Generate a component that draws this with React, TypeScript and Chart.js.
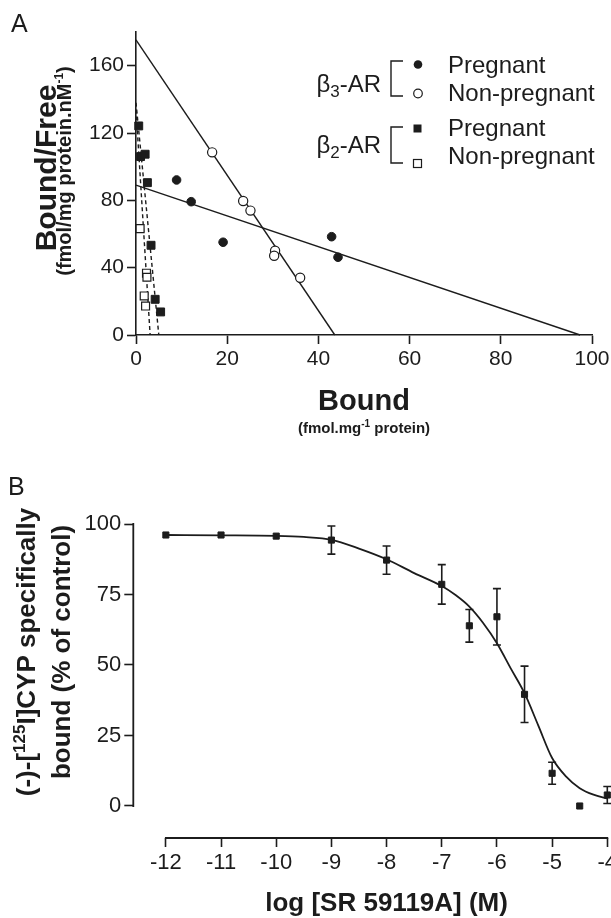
import React, { useEffect, useRef } from 'react';
import { Chart, registerables } from 'chart.js';

Chart.register(...registerables);

const FONT = '"Liberation Sans", Arial, Helvetica, sans-serif';
const INK = '#1c1c1c';

// ---------------- Panel A (Scatchard plot) ----------------
const aXTicks = [0, 20, 40, 60, 80, 100];
const aYTicks = [0, 40, 80, 120, 160];

const b3PregnantX = [8.9, 12.1, 19.1, 42.9, 44.3];
const b3PregnantY = [92.1, 79.2, 55.1, 58.4, 46.2];
const b3NonPregnantX = [16.7, 23.5, 25.1, 30.5, 30.3, 36.0];
const b3NonPregnantY = [108.5, 79.6, 73.9, 50.1, 47.1, 34.0];
const b2PregnantX = [0.6, 1.0, 2.0, 2.5, 3.3, 4.2, 5.4];
const b2PregnantY = [124.2, 106.0, 107.4, 90.5, 53.3, 21.2, 13.7];
const b2NonPregnantX = [0.9, 2.3, 2.4, 1.8, 2.1];
const b2NonPregnantY = [63.2, 36.7, 34.3, 23.2, 17.2];

const fitB3PregnantX = [0, 97.4];
const fitB3PregnantY = [89, 0];
const fitB3NonPregnantX = [0, 43.6];
const fitB3NonPregnantY = [175.3, 0];
const fitB2PregnantX = [0, 5.0];
const fitB2PregnantY = [138, 0];
const fitB2NonPregnantX = [0, 3.1];
const fitB2NonPregnantY = [134, 0];

// ---------------- Panel B (competition curve) ----------------
const bXTicks = [-12, -11, -10, -9, -8, -7, -6, -5, -4];
const bYTicks = [0, 25, 50, 75, 100];

const logConc = [-12, -11, -10, -9, -8, -7, -6.5, -6, -5.5, -5, -4.5, -4];
const boundPct = [96.1, 96.1, 95.7, 94.3, 87.2, 78.6, 63.9, 67.1, 39.6, 11.6, 0, 3.9];
const boundSem = [0, 0, 0, 5.0, 5.0, 7.0, 5.8, 10.0, 10.0, 3.9, 0, 3.0];

const fitLogConc = [-12, -11, -10, -9.5, -9, -8.5, -8, -7.5, -7, -6.75, -6.5, -6.25, -6, -5.75, -5.5, -5.25, -5, -4.75, -4.5, -4.25, -4];
const fitBound = [96.1, 96.0, 95.8, 95.4, 94.4, 91.3, 87.5, 82.6, 78.0, 74.8, 70.7, 64.9, 57.7, 48.8, 40.0, 28.5, 17.0, 10.5, 6.3, 4.0, 2.7];

const zip = (xs: number[], ys: number[]) => xs.map((x, i) => ({ x, y: ys[i] }));

type Seg = { t: string; f: string; dy?: number };

function rich(ctx: CanvasRenderingContext2D, segs: Seg[], x: number, y: number, align: 'left' | 'center' | 'right', rotate = false) {
  ctx.save();
  ctx.translate(x, y);
  if (rotate) ctx.rotate(-Math.PI / 2);
  ctx.textAlign = 'left';
  ctx.textBaseline = 'alphabetic';
  const ws = segs.map((s) => {
    ctx.font = s.f;
    return ctx.measureText(s.t).width;
  });
  const total = ws.reduce((a, b) => a + b, 0);
  let cx = align === 'center' ? -total / 2 : align === 'right' ? -total : 0;
  segs.forEach((s, i) => {
    ctx.font = s.f;
    ctx.fillText(s.t, cx, s.dy || 0);
    cx += ws[i];
  });
  ctx.restore();
}

const axisCommon = (size: number) => ({
  grid: { display: true, drawOnChartArea: false, drawTicks: true, tickLength: 9, tickWidth: 1.6, tickColor: INK, color: INK },
  ticks: {
    color: INK,
    font: { family: FONT, size },
    padding: 3,
    autoSkip: false,
    maxRotation: 0,
    callback: (v: any) => String(v),
  },
});

const annotateA = {
  id: 'annotateA',
  afterDraw(chart: any) {
    const ctx: CanvasRenderingContext2D = chart.ctx;
    const xs = chart.scales.x;
    ctx.save();
    ctx.fillStyle = INK;
    ctx.strokeStyle = INK;
    ctx.font = `25px ${FONT}`;
    ctx.textAlign = 'left';
    ctx.textBaseline = 'alphabetic';
    ctx.fillText('A', 11, 32);

    const cx = (xs.left + xs.right) / 2;
    rich(ctx, [{ t: 'Bound', f: `bold 29px ${FONT}` }], cx, 410, 'center');
    rich(ctx, [
      { t: '(fmol.mg', f: `bold 15px ${FONT}` },
      { t: '-1', f: `bold 10px ${FONT}`, dy: -6 },
      { t: ' protein)', f: `bold 15px ${FONT}` },
    ], cx, 433, 'center');

    rich(ctx, [{ t: 'Bound/Free', f: `bold 30px ${FONT}` }], 56, 168, 'center', true);
    rich(ctx, [
      { t: '(fmol/mg protein.nM', f: `bold 20px ${FONT}` },
      { t: '-1', f: `bold 12px ${FONT}`, dy: -8 },
      { t: ')', f: `bold 20px ${FONT}` },
    ], 71, 171, 'center', true);

    // legend
    const lf = `24px ${FONT}`;
    const sf = `17px ${FONT}`;
    rich(ctx, [{ t: 'β', f: lf }, { t: '3', f: sf, dy: 5 }, { t: '-AR', f: lf }], 381, 91.7, 'right');
    rich(ctx, [{ t: 'β', f: lf }, { t: '2', f: sf, dy: 5 }, { t: '-AR', f: lf }], 381, 153.3, 'right');

    ctx.lineWidth = 1.4;
    const bracket = (bx: number, y1: number, y2: number) => {
      ctx.beginPath();
      ctx.moveTo(bx + 12, y1);
      ctx.lineTo(bx, y1);
      ctx.lineTo(bx, y2);
      ctx.lineTo(bx + 12, y2);
      ctx.stroke();
    };
    bracket(391, 61, 96);
    bracket(391, 127, 163);

    ctx.beginPath();
    ctx.arc(418, 64.5, 4.3, 0, Math.PI * 2);
    ctx.fill();
    ctx.beginPath();
    ctx.lineWidth = 1.2;
    ctx.arc(418, 93.5, 4.3, 0, Math.PI * 2);
    ctx.stroke();
    ctx.fillRect(413.5, 124.5, 8, 8);
    ctx.strokeRect(413.5, 159.5, 8, 8);

    ctx.font = lf;
    ctx.fillText('Pregnant', 448, 72.5);
    ctx.fillText('Non-pregnant', 448, 101);
    ctx.fillText('Pregnant', 448, 136);
    ctx.fillText('Non-pregnant', 448, 164);
    ctx.restore();
  },
};

const errorBarsB = {
  id: 'errorBarsB',
  beforeDatasetsDraw(chart: any) {
    const ctx: CanvasRenderingContext2D = chart.ctx;
    const { x, y } = chart.scales;
    ctx.save();
    ctx.strokeStyle = INK;
    ctx.lineWidth = 1.6;
    logConc.forEach((lx, i) => {
      const e = boundSem[i];
      if (!e) return;
      const px = x.getPixelForValue(lx);
      const top = y.getPixelForValue(boundPct[i] + e);
      const bot = y.getPixelForValue(boundPct[i] - e);
      ctx.beginPath();
      ctx.moveTo(px, top);
      ctx.lineTo(px, bot);
      ctx.moveTo(px - 4, top);
      ctx.lineTo(px + 4, top);
      ctx.moveTo(px - 4, bot);
      ctx.lineTo(px + 4, bot);
      ctx.stroke();
    });
    ctx.restore();
  },
};

const annotateB = {
  id: 'annotateB',
  afterDraw(chart: any) {
    const ctx: CanvasRenderingContext2D = chart.ctx;
    const { x, y } = chart.scales;
    const { left, bottom } = chart.chartArea;
    ctx.save();
    ctx.strokeStyle = INK;
    ctx.lineWidth = 1.8;
    ctx.lineCap = 'square';
    ctx.beginPath();
    ctx.moveTo(left, y.getPixelForValue(bYTicks[bYTicks.length - 1]));
    ctx.lineTo(left, y.getPixelForValue(bYTicks[0]));
    ctx.moveTo(x.getPixelForValue(bXTicks[0]), bottom);
    ctx.lineTo(x.getPixelForValue(bXTicks[bXTicks.length - 1]), bottom);
    ctx.stroke();

    ctx.fillStyle = INK;
    ctx.font = `25px ${FONT}`;
    ctx.textAlign = 'left';
    ctx.textBaseline = 'alphabetic';
    ctx.fillText('B', 8, 55);

    const cx = (x.getPixelForValue(bXTicks[0]) + x.getPixelForValue(bXTicks[bXTicks.length - 1])) / 2;
    rich(ctx, [{ t: 'log [SR 59119A] (M)', f: `bold 26px ${FONT}` }], cx, 470.5, 'center');

    const bf = `bold 26px ${FONT}`;
    rich(ctx, [
      { t: '(-)-[', f: bf },
      { t: '125', f: `bold 17px ${FONT}`, dy: -10 },
      { t: 'I]CYP specifically', f: bf },
    ], 34.5, 212, 'center', true);
    rich(ctx, [{ t: 'bound (% of control)', f: bf }], 69.5, 212, 'center', true);
    ctx.restore();
  },
};

function configA(): any {
  const ax = axisCommon(21);
  const ay = axisCommon(21);
  return {
    type: 'scatter',
    data: {
      datasets: [
        { data: zip(b3PregnantX, b3PregnantY), pointStyle: 'circle', pointRadius: 4.3, pointBackgroundColor: INK, pointBorderColor: INK, pointBorderWidth: 1, showLine: false, clip: false },
        { data: zip(b3NonPregnantX, b3NonPregnantY), pointStyle: 'circle', pointRadius: 4.6, pointBackgroundColor: '#ffffff', pointBorderColor: INK, pointBorderWidth: 1.2, showLine: false, clip: false },
        { data: zip(b2PregnantX, b2PregnantY), pointStyle: 'rect', pointRadius: 5.6, pointBackgroundColor: INK, pointBorderColor: INK, pointBorderWidth: 1, showLine: false, clip: false },
        { data: zip(b2NonPregnantX, b2NonPregnantY), pointStyle: 'rect', pointRadius: 5.6, pointBackgroundColor: '#ffffff', pointBorderColor: INK, pointBorderWidth: 1.2, showLine: false, clip: false },
        { data: zip(fitB3PregnantX, fitB3PregnantY), showLine: true, pointRadius: 0, borderColor: INK, borderWidth: 1.4, clip: false },
        { data: zip(fitB3NonPregnantX, fitB3NonPregnantY), showLine: true, pointRadius: 0, borderColor: INK, borderWidth: 1.4, clip: false },
        { data: zip(fitB2PregnantX, fitB2PregnantY), showLine: true, pointRadius: 0, borderColor: INK, borderWidth: 1.4, borderDash: [4, 3], clip: false },
        { data: zip(fitB2NonPregnantX, fitB2NonPregnantY), showLine: true, pointRadius: 0, borderColor: INK, borderWidth: 1.4, borderDash: [4, 3], clip: false },
      ],
    },
    options: {
      responsive: false,
      animation: false,
      events: [],
      devicePixelRatio: 1,
      layout: { padding: { top: 32, right: 48, left: 0, bottom: 0 } },
      plugins: { legend: { display: false }, tooltip: { enabled: false } },
      scales: {
        x: {
          type: 'linear',
          min: 0,
          max: 100,
          ...ax,
          border: { display: true, color: INK, width: 1.6 },
          afterBuildTicks: (s: any) => { s.ticks = aXTicks.map((v) => ({ value: v })); },
          afterFit: (s: any) => { s.height = 105; },
        },
        y: {
          type: 'linear',
          min: 0,
          max: 180,
          ...ay,
          border: { display: true, color: INK, width: 1.6 },
          afterBuildTicks: (s: any) => { s.ticks = aYTicks.map((v) => ({ value: v })); },
          afterFit: (s: any) => { s.width = 136; },
        },
      },
    },
    plugins: [annotateA],
  };
}

function configB(): any {
  const ax = axisCommon(22);
  const ay = axisCommon(22);
  return {
    type: 'scatter',
    data: {
      datasets: [
        { data: zip(logConc, boundPct), pointStyle: 'rect', pointRadius: 4.3, pointBackgroundColor: INK, pointBorderColor: INK, pointBorderWidth: 1, showLine: false, clip: false },
        { data: zip(fitLogConc, fitBound), showLine: true, pointRadius: 0, borderColor: INK, borderWidth: 1.8, cubicInterpolationMode: 'monotone', clip: false },
      ],
    },
    options: {
      responsive: false,
      animation: false,
      events: [],
      devicePixelRatio: 1,
      layout: { padding: { top: 84, right: 32.7, left: 0, bottom: 0 } },
      plugins: { legend: { display: false }, tooltip: { enabled: false } },
      scales: {
        x: {
          type: 'linear',
          min: -12.59,
          max: -4,
          ...ax,
          border: { display: false },
          afterBuildTicks: (s: any) => { s.ticks = bXTicks.map((v) => ({ value: v })); },
          afterFit: (s: any) => { s.height = 80; },
        },
        y: {
          type: 'linear',
          min: -11.35,
          max: 100,
          ...ay,
          border: { display: false },
          afterBuildTicks: (s: any) => { s.ticks = bYTicks.map((v) => ({ value: v })); },
          afterFit: (s: any) => { s.width = 133.3; },
        },
      },
    },
    plugins: [errorBarsB, annotateB],
  };
}

function ChartCanvas({ make, width, height, top }: { make: () => any; width: number; height: number; top: number }) {
  const ref = useRef<HTMLCanvasElement | null>(null);
  useEffect(() => {
    if (!ref.current) return;
    const chart = new Chart(ref.current, make());
    return () => chart.destroy();
  }, []);
  return (
    <canvas
      ref={ref}
      width={width}
      height={height}
      style={{ position: 'absolute', left: 0, top, width, height, display: 'block' }}
    />
  );
}

export default function App() {
  return (
    <div style={{ position: 'absolute', left: 0, top: 0, width: 611, height: 918, overflow: 'hidden', background: '#ffffff' }}>
      <ChartCanvas make={configA} width={640} height={440} top={0} />
      <ChartCanvas make={configB} width={640} height={478} top={440} />
    </div>
  );
}
